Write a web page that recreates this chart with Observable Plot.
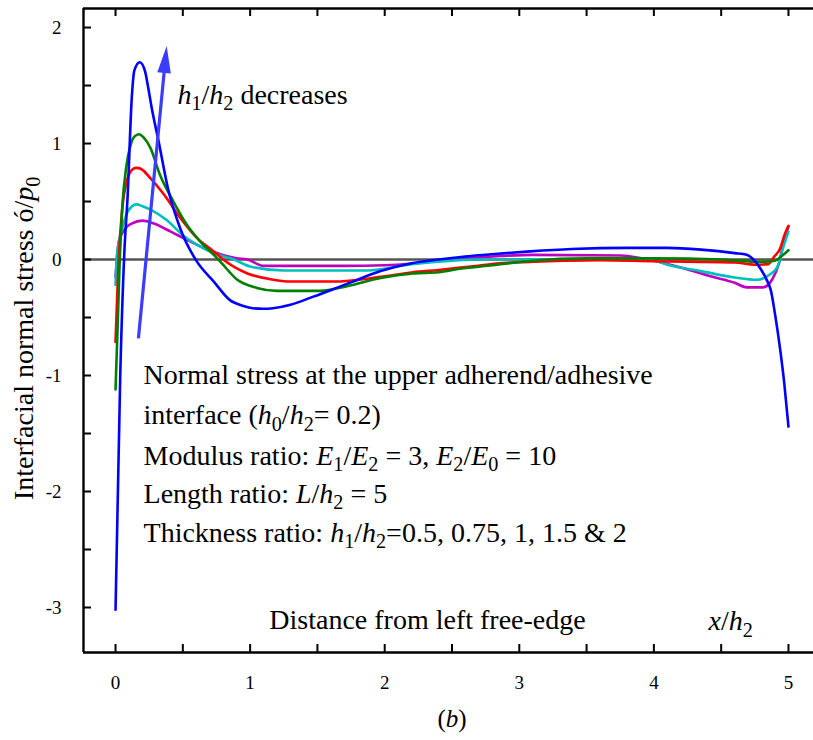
<!DOCTYPE html>
<html><head><meta charset="utf-8">
<script src="https://cdn.jsdelivr.net/npm/d3@7"></script>
<script src="https://cdn.jsdelivr.net/npm/@observablehq/plot@0.6"></script>
<style>body{margin:0;background:#fff}</style>
</head><body><div id="chart"></div>
<script>
// ---------- axes ----------
const xDomain = [-0.238, 5.186];
const yDomain = [-3.388, 2.164];
const xTickLabels = [0, 1, 2, 3, 4, 5];
const xTickMarks = [0, 0.5, 1, 1.5, 2, 2.5, 3, 3.5, 4, 4.5, 5];
const yTickLabels = [-3, -2, -1, 0, 1, 2];
const yTickMarks = [-3, -2.5, -2, -1.5, -1, -0.5, 0, 0.5, 1, 1.5, 2];

// ---------- series (h1/h2) ----------
const seriesNames = ["0.5", "0.75", "1", "1.5", "2"];
const seriesColors = ["#0000ff", "#008000", "#ff0000", "#00bfbf", "#bf00bf"];

const blueX = [0, 0.035, 0.065, 0.09, 0.12, 0.14, 0.18, 0.22, 0.24, 0.27, 0.32, 0.39, 0.48, 0.6, 0.73, 0.85, 0.95, 1.02, 1.1, 1.17, 1.3, 1.47, 1.72, 1.97, 2.21, 2.4, 2.55, 2.84, 3.08, 3.39, 3.81, 4.1, 4.35, 4.6, 4.69, 4.74, 4.79, 4.84, 4.87, 4.9, 4.94, 4.97, 5.0];
const blueY = [-3.02, -1.0, 0.05, 0.55, 1.38, 1.63, 1.70, 1.62, 1.5, 1.30, 1.02, 0.61, 0.27, -0.01, -0.19, -0.35, -0.40, -0.42, -0.425, -0.42, -0.39, -0.32, -0.21, -0.10, -0.03, 0.0, 0.02, 0.05, 0.07, 0.09, 0.10, 0.10, 0.085, 0.055, 0.04, 0.0, -0.075, -0.18, -0.27, -0.47, -0.79, -1.08, -1.44];

const greenX = [0, 0.015, 0.03, 0.05, 0.08, 0.11, 0.14, 0.175, 0.21, 0.26, 0.33, 0.43, 0.53, 0.63, 0.73, 0.78, 0.9, 1.05, 1.2, 1.52, 1.72, 1.97, 2.21, 2.4, 2.56, 2.8, 3.1, 3.5, 4.0, 4.5, 4.8, 4.9, 4.95, 5.0];
const greenY = [-1.12, -0.6, -0.05, 0.45, 0.8, 0.98, 1.06, 1.08, 1.05, 0.96, 0.73, 0.5, 0.3, 0.155, 0.04, -0.02, -0.17, -0.245, -0.27, -0.27, -0.23, -0.16, -0.12, -0.11, -0.08, -0.05, -0.01, 0.01, 0.01, 0.0, -0.02, -0.01, 0.03, 0.08];

const redX = [0, 0.02, 0.05, 0.09, 0.13, 0.155, 0.19, 0.26, 0.36, 0.48, 0.61, 0.73, 0.8, 0.98, 1.15, 1.3, 1.62, 1.97, 2.21, 2.4, 2.64, 2.88, 3.08, 3.33, 3.6, 4.0, 4.6, 4.75, 4.85, 4.89, 4.94, 4.97, 5.0];
const redY = [-0.71, -0.08, 0.44, 0.7, 0.78, 0.79, 0.78, 0.70, 0.56, 0.36, 0.18, 0.07, 0.0, -0.12, -0.17, -0.19, -0.19, -0.15, -0.11, -0.09, -0.06, -0.03, -0.02, -0.01, -0.005, -0.015, -0.025, -0.045, -0.04, 0.02, 0.1, 0.21, 0.29];

const cyanX = [0, 0.01, 0.05, 0.09, 0.155, 0.2, 0.26, 0.38, 0.5, 0.61, 0.73, 0.88, 1.0, 1.25, 1.87, 2.2, 2.5, 2.7, 3.5, 4.0, 4.1, 4.35, 4.6, 4.77, 4.84, 4.92, 4.96, 5.0];
const cyanY = [-0.22, 0.04, 0.27, 0.41, 0.475, 0.46, 0.43, 0.34, 0.21, 0.125, 0.055, 0.0, -0.06, -0.095, -0.095, -0.04, -0.01, 0.0, 0.0, -0.01, -0.045, -0.1, -0.155, -0.175, -0.145, -0.06, 0.1, 0.24];

const magentaX = [0, 0.025, 0.075, 0.12, 0.2, 0.285, 0.41, 0.53, 0.655, 0.78, 0.9, 0.98, 1.1, 1.7, 2.0, 2.25, 2.5, 2.86, 3.1, 3.75, 4.0, 4.22, 4.42, 4.6, 4.69, 4.81, 4.88, 4.93, 4.96, 5.0];
const magentaY = [-0.15, 0.155, 0.27, 0.31, 0.335, 0.31, 0.24, 0.17, 0.1, 0.045, 0.01, 0.0, -0.055, -0.055, -0.05, -0.03, 0.0, 0.03, 0.04, 0.035, -0.01, -0.075, -0.145, -0.2, -0.24, -0.24, -0.17, -0.03, 0.13, 0.285];

// ---------- annotations ----------
const arrowX = [0.17, 0.38];
const arrowY = [-0.68, 1.84];
const arrowLabel = "<i>h</i><sub>1</sub>/<i>h</i><sub>2</sub> decreases";
const arrowLabelPos = {x: 0.46, y: 1.42};
const noteLines = [
  "Normal stress at the upper adherend/adhesive",
  "interface (<i>h</i><sub>0</sub>/<i>h</i><sub>2</sub>= 0.2)",
  "Modulus ratio: <i>E</i><sub>1</sub>/<i>E</i><sub>2</sub> = 3, <i>E</i><sub>2</sub>/<i>E</i><sub>0</sub> = 10",
  "Length ratio: <i>L</i>/<i>h</i><sub>2</sub> = 5",
  "Thickness ratio: <i>h</i><sub>1</sub>/<i>h</i><sub>2</sub>=0.5, 0.75, 1, 1.5 & 2"
];
const noteX = 0.208;
const noteY = [-1.0, -1.345, -1.69, -2.02, -2.355];
const xLabelText = "Distance from left free-edge";
const xLabelPos = {x: 2.318, y: -3.11};
const xUnitText = "<i>x</i>/<i>h</i><sub>2</sub>";
const xUnitPos = {x: 4.57, y: -3.12};
const yLabelText = "Interfacial normal stress ó/<i>p</i><sub>0</sub>";
const yLabelPosY = -0.68;
const panelText = "(<i>b</i>)";
const panelX = 2.5;

// ---------- build ----------
const allX = [blueX, greenX, redX, cyanX, magentaX];
const allY = [blueY, greenY, redY, cyanY, magentaY];
const rows = [];
[4, 3, 2, 1, 0].forEach(k => {
  allX[k].forEach((x, i) => rows.push({s: seriesNames[k], c: seriesColors[k], x, y: allY[k][i]}));
});

const W = 813, H = 740, mL = 83, mR = 0, mT = 8, mB = 88;
const frameW = W - mL - mR, frameH = H - mT - mB;
const tickLen = 8;
const serif = "'Liberation Serif', 'Times New Roman', Times, serif";

const sx = Plot.scale({x: {domain: xDomain, range: [mL, W - mR]}});
const sy = Plot.scale({y: {domain: yDomain, range: [H - mB, mT]}});
const adx = sx.apply(arrowX[1]) - sx.apply(arrowX[0]);
const ady = sy.apply(arrowY[1]) - sy.apply(arrowY[0]);
const arrowLen = Math.hypot(adx, ady);
const arrowAngle = Math.atan2(adx, -ady) * 180 / Math.PI;

const arrowShape = {
  draw(context, l) {
    const hw = 1.6, w = 6.8, h = 27;
    context.moveTo(-hw, 0);
    context.lineTo(-hw, -(l - h));
    context.lineTo(-w, -(l - h));
    context.lineTo(0, -l);
    context.lineTo(w, -(l - h));
    context.lineTo(hw, -(l - h));
    context.lineTo(hw, 0);
    context.closePath();
  }
};

const marks = [
  Plot.ruleY([0], {stroke: "#555555", strokeWidth: 2.4}),
  Plot.line(rows, {x: "x", y: "y", z: "s", stroke: "c", strokeWidth: 2.6, curve: "monotone-x"}),
  Plot.ruleX([xDomain[0]], {stroke: "black", strokeWidth: 2.4}),
  Plot.ruleY([yDomain[0]], {stroke: "black", strokeWidth: 2.4}),
  Plot.ruleY([yDomain[1]], {stroke: "black", strokeWidth: 2.4}),
  Plot.tickX(xTickMarks, {x: d => d, insetTop: frameH - tickLen, stroke: "black", strokeWidth: 2}),
  Plot.tickX(xTickMarks, {x: d => d, insetBottom: frameH - tickLen, stroke: "black", strokeWidth: 2}),
  Plot.tickY(yTickMarks, {y: d => d, insetRight: frameW - tickLen, stroke: "black", strokeWidth: 2}),
  Plot.axisX(xTickLabels, {anchor: "bottom", tickSize: 0, tickPadding: 23, fontSize: 19, tickFormat: d => String(d), label: null}),
  Plot.axisY(yTickLabels, {anchor: "left", tickSize: 0, tickPadding: 22, fontSize: 19, tickFormat: d => String(d), label: null}),
  Plot.text([arrowLabelPos], {x: "x", y: "y", text: () => arrowLabel, textAnchor: "start", fontSize: 28}),
  Plot.text(noteLines, {x: () => noteX, y: (d, i) => noteY[i], text: d => d, textAnchor: "start", fontSize: 28}),
  Plot.text([xLabelPos], {x: "x", y: "y", text: () => xLabelText, textAnchor: "middle", fontSize: 28}),
  Plot.text([xUnitPos], {x: "x", y: "y", text: () => xUnitText, textAnchor: "middle", fontSize: 28}),
  Plot.text([yLabelPosY], {y: d => d, frameAnchor: "left", dx: -59, rotate: -90, text: () => yLabelText, textAnchor: "middle", fontSize: 28}),
  Plot.text([panelX], {x: d => d, frameAnchor: "bottom", dy: 74, text: () => panelText, textAnchor: "middle", fontSize: 25})
];

let arrowMark;
try {
  arrowMark = Plot.vector([{x: arrowX[1], y: arrowY[1]}], {x: "x", y: "y", length: arrowLen, rotate: arrowAngle, anchor: "end", shape: arrowShape, fill: "#3c3cff", stroke: "none"});
} catch (e) {
  arrowMark = Plot.arrow([0], {x1: () => arrowX[0], y1: () => arrowY[0], x2: () => arrowX[1], y2: () => arrowY[1], stroke: "#3c3cff", strokeWidth: 3, headLength: 22});
}
marks.push(arrowMark);

const chart = Plot.plot({
  width: W, height: H,
  marginLeft: mL, marginRight: mR, marginTop: mT, marginBottom: mB,
  style: {fontFamily: serif, background: "white", color: "black", overflow: "visible"},
  x: {domain: xDomain, axis: null},
  y: {domain: yDomain, axis: null},
  color: {type: "identity"},
  marks
});
document.getElementById("chart").appendChild(chart);

function richify(svg) {
  const NS = "http://www.w3.org/2000/svg";
  svg.querySelectorAll("text").forEach(t => {
    const s = t.textContent;
    if (!/<(i|sub)>/.test(s)) return;
    const fs = parseFloat(getComputedStyle(t).fontSize) || 20;
    while (t.firstChild) t.removeChild(t.firstChild);
    const re = /<i>(.*?)<\/i>|<sub>(.*?)<\/sub>|([^<]+)/g;
    let m, shifted = false;
    const shift = fs * 0.22;
    while ((m = re.exec(s))) {
      const ts = document.createElementNS(NS, "tspan");
      if (m[1] != null) { ts.textContent = m[1]; ts.setAttribute("font-style", "italic"); }
      else if (m[2] != null) { ts.textContent = m[2]; ts.setAttribute("font-size", (fs * 0.72).toFixed(1)); }
      else ts.textContent = m[3];
      if (m[2] != null) { if (!shifted) { ts.setAttribute("dy", shift.toFixed(1)); shifted = true; } }
      else if (shifted) { ts.setAttribute("dy", (-shift).toFixed(1)); shifted = false; }
      t.appendChild(ts);
    }
  });
}
richify(chart);
</script>
</body></html>
